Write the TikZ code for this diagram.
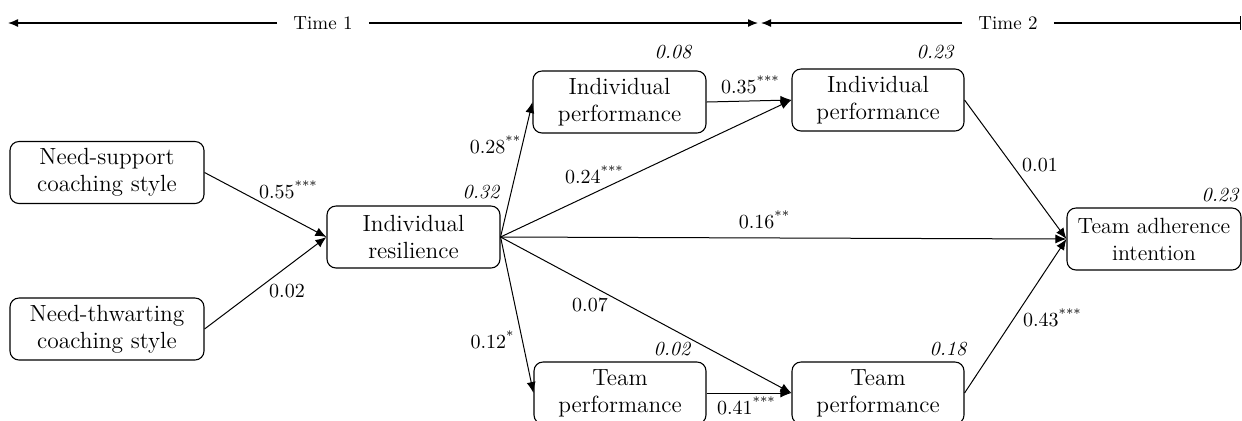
\documentclass[tikz,border=0pt]{standalone}
\usetikzlibrary{arrows.meta}
\newcommand{\sigst}[1]{\raisebox{0.9ex}{\fontsize{6.5}{6.5}\selectfont #1}}
\begin{document}
\begin{tikzpicture}[x=0.5pt,y=-0.5pt,
  box/.style={draw, rounded corners=4.5pt, line width=0.55pt, align=center,
    font=\fontsize{11.7}{13.5}\selectfont, inner sep=0pt, minimum height=31pt},
  lab/.style={font=\fontsize{10}{11}\selectfont, inner sep=0pt},
  rsq/.style={font=\fontsize{10}{11}\selectfont\itshape, inner sep=0pt},
  arr/.style={-{Latex[length=5.5pt,width=4.5pt]}, line width=0.5pt},
  tline/.style={line width=0.65pt},
  tlab/.style={font=\fontsize{9.5}{11}\selectfont, inner sep=0pt}
]
\useasboundingbox (0,0) rectangle (1242,420);

% timeline
\node[tlab] (time1) at (323,23) {Time 1};
\node[tlab] (time2) at (1008,23) {Time 2};
\coordinate (t1l) at (8,23);
\coordinate (t1r) at (758,23);
\coordinate (t2l) at (761,23);
\coordinate (t2r) at (1241,23);
\draw[tline,-{Latex[length=5pt,width=4pt]}] ([xshift=-8pt]time1.west) -- (t1l);
\draw[tline,-{Latex[length=5pt,width=4pt]}] ([xshift=8pt]time1.east) -- (t1r);
\draw[tline,-{Latex[length=5pt,width=4pt]}] ([xshift=-8pt]time2.west) -- (t2l);
\draw[tline,-{Bar[width=7pt]}] ([xshift=8pt]time2.east) -- (t2r);

% nodes
\node[box, minimum width=97pt] (ns) at (107,172.5) {Need-support\\coaching style};
\node[box, minimum width=97pt] (nt) at (107,329) {Need-thwarting\\coaching style};
\node[box, minimum width=86.5pt] (ir) at (413.5,237) {Individual\\resilience};
\node[box, minimum width=86.5pt] (ip1) at (619.5,102) {Individual\\performance};
\node[box, minimum width=86pt] (ip2) at (878,100) {Individual\\performance};
\node[box, minimum width=86pt] (tp1) at (620,393) {Team\\performance};
\node[box, minimum width=86pt] (tp2) at (878,393) {Team\\performance};
\node[box, minimum width=87pt, font=\fontsize{11}{13.5}\selectfont] (ta) at (1154,239) {Team adherence\\intention};

% R-squared
\node[rsq] (r1) at (481,192) {0.32};
\node[rsq] (r2) at (673,52) {0.08};
\node[rsq] (r3) at (935,52) {0.23};
\node[rsq] (r4) at (672,349) {0.02};
\node[rsq] (r5) at (948,349) {0.18};
\node[rsq] (r6) at (1220,195) {0.23};

% arrows
\draw[arr] (ns.east) -- (ir.west);
\draw[arr] (nt.east) -- (ir.west);
\draw[arr] (ir.east) -- (ip1.west);
\draw[arr] (ir.east) -- (ip2.west);
\draw[arr] (ir.east) -- (ta.west);
\draw[arr] (ir.east) -- (tp2.west);
\draw[arr] (ir.east) -- (tp1.west);
\draw[arr] (ip1.east) -- (ip2.west);
\draw[arr] (tp1.east) -- (tp2.west);
\draw[arr] (ip2.east) -- (ta.west);
\draw[arr] (tp2.east) -- (ta.west);

% path labels
\node[lab] (l1) at (288,190) {0.55\sigst{***}};
\node[lab] (l2) at (287,291) {0.02};
\node[lab] (l3) at (495,145) {0.28\sigst{**}};
\node[lab] (l4) at (492,340) {0.12\sigst{*}};
\node[lab] (l5) at (594,175) {0.24\sigst{***}};
\node[lab] (l6) at (750,85) {0.35\sigst{***}};
\node[lab] (l7) at (764,220) {0.16\sigst{**}};
\node[lab] (l8) at (590,305) {0.07};
\node[lab] (l9) at (746,406) {0.41\sigst{***}};
\node[lab] (l10) at (1040,165) {0.01};
\node[lab] (l11) at (1052,318) {0.43\sigst{***}};
\end{tikzpicture}
\end{document}
